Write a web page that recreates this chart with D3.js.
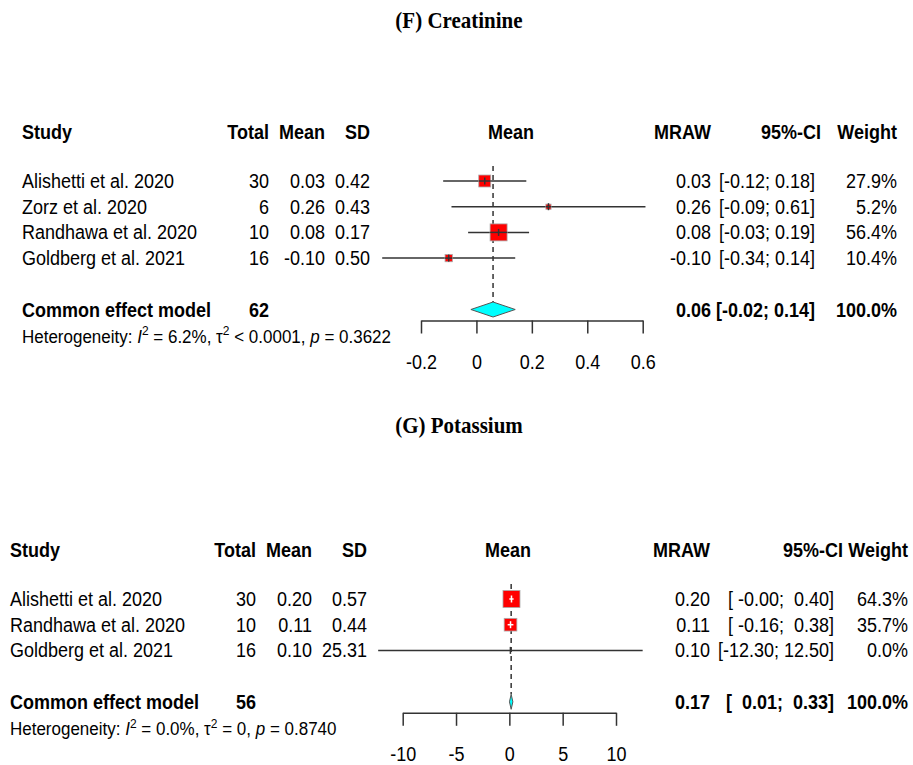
<!DOCTYPE html>
<html>
<head>
<meta charset="utf-8">
<script src="https://cdn.jsdelivr.net/npm/d3@7"></script>
<style>
  body { margin: 0; background: #fff; }
  svg { display: block; }
  text { font-family: "Liberation Sans", Arial, sans-serif; fill: #000; white-space: pre; }
</style>
</head>
<body>
<div id="chart"></div>
<script>
// ---- (F) Creatinine ----
const fStudies = ["Alishetti et al. 2020", "Zorz et al. 2020", "Randhawa et al. 2020", "Goldberg et al. 2021"];
const fTotal = [30, 6, 10, 16];
const fMean = [0.03, 0.26, 0.08, -0.10];
const fSD = [0.42, 0.43, 0.17, 0.50];
const fLower = [-0.12, -0.09, -0.03, -0.34];
const fUpper = [0.18, 0.61, 0.19, 0.14];
const fWeight = [27.9, 5.2, 56.4, 10.4];
const fPooled = [62, 0.06, -0.02, 0.14];          // total, estimate, lower, upper
const fHet = ["6.2%", "< 0.0001", "0.3622"];        // I^2, tau^2, p
const fTicks = [-0.2, 0, 0.2, 0.4, 0.6];

// ---- (G) Potassium ----
const gStudies = ["Alishetti et al. 2020", "Randhawa et al. 2020", "Goldberg et al. 2021"];
const gTotal = [30, 10, 16];
const gMean = [0.20, 0.11, 0.10];
const gSD = [0.57, 0.44, 25.31];
const gLower = [-0.004, -0.16, -12.30];
const gUpper = [0.40, 0.38, 12.50];
const gWeight = [64.3, 35.7, 0.0];
const gPooled = [56, 0.17, 0.01, 0.33];
const gHet = ["0.0%", "= 0", "0.8740"];
const gTicks = [-10, -5, 0, 5, 10];

const W = 913, H = 765;
const svg = d3.select("#chart").append("svg")
    .attr("width", W).attr("height", H)
    .attr("viewBox", `0 0 ${W} ${H}`);
svg.append("rect").attr("width", W).attr("height", H).attr("fill", "#fff");

// R prints a plain hyphen for negatives
const hyphen = fmt => d => fmt(d).replace("\u2212", "-");

drawPanel({
    title: "(F) Creatinine", titleY: 20, headerY: 132, rowY0: 181,
    studyX: 22, totalX: 269, meanX: 325, sdX: 370, plotHeadX: 511,
    xRange: [421, 642.7], mrawX: 711, ciX: 815, ciHeadX: 821, weightX: 897,
    domain: [-0.2, 0.6], ticks: fTicks, tickFmt: hyphen(d => d === 0 ? "0" : d3.format(".1f")(d))
}, fStudies, fTotal, fMean, fSD, fLower, fUpper, fWeight, fPooled, fHet);

drawPanel({
    title: "(G) Potassium", titleY: 425, headerY: 550, rowY0: 599,
    studyX: 10, totalX: 256, meanX: 312, sdX: 367, plotHeadX: 508,
    xRange: [402.7, 616], mrawX: 710, ciX: 834, ciHeadX: 843, weightX: 908,
    domain: [-10, 10], ticks: gTicks, tickFmt: hyphen(d3.format("d"))
}, gStudies, gTotal, gMean, gSD, gLower, gUpper, gWeight, gPooled, gHet);

// the source image is slightly stretched vertically; stretch the glyphs the same way
svg.selectAll("text").each(function() {
    const y = +this.getAttribute("y") || 0;
    d3.select(this).attr("transform", `translate(0,${y}) scale(1,1.12) translate(0,${-y})`);
});

function drawPanel(cfg, studies, totals, means, sds, lowers, uppers, weights, pooled, het) {
    const step = 25.7;
    const g = svg.append("g");
    const rows = studies.map((s, i) => ({
        study: s, total: totals[i], mean: means[i], sd: sds[i],
        lo: lowers[i], hi: uppers[i], w: weights[i], y: cfg.rowY0 + i * step
    }));
    const yCommon = cfg.rowY0 + (rows.length + 1) * step;

    const x = d3.scaleLinear().domain(cfg.domain).range(cfg.xRange);
    const size = d3.scaleSqrt().domain([0, d3.max(weights)]).range([0, 17]);

    // title
    g.append("text")
        .attr("x", 459).attr("y", cfg.titleY).attr("dy", "0.35em")
        .attr("text-anchor", "middle")
        .style("font-family", "'Liberation Serif', 'Times New Roman', serif")
        .style("font-weight", "bold").style("font-size", "21px")
        .text(cfg.title);

    // header
    const heads = [
        ["Study", cfg.studyX, "start"], ["Total", cfg.totalX, "end"], ["Mean", cfg.meanX, "end"],
        ["SD", cfg.sdX, "end"], ["Mean", cfg.plotHeadX, "middle"], ["MRAW", cfg.mrawX, "end"],
        ["95%-CI", cfg.ciHeadX, "end"], ["Weight", cfg.weightX, "end"]
    ];
    g.selectAll(".head").data(heads).enter().append("text")
        .attr("x", d => d[1]).attr("y", cfg.headerY).attr("dy", "0.35em")
        .attr("text-anchor", d => d[2])
        .style("font-size", "18px").style("font-weight", "bold")
        .text(d => d[0]);

    // CI text padded like R's formatC
    const f2 = v => v.toFixed(2);
    const loW = d3.max(lowers.concat([pooled[2]]), v => f2(v).length);
    const hiW = d3.max(uppers.concat([pooled[3]]), v => f2(v).length);
    const ciText = (lo, hi) => "[" + f2(lo).padStart(loW) + "; " + f2(hi).padStart(hiW) + "]";

    // study rows text
    const cols = [
        [d => d.study, cfg.studyX, "start"], [d => d.total, cfg.totalX, "end"],
        [d => f2(d.mean), cfg.meanX, "end"], [d => f2(d.sd), cfg.sdX, "end"],
        [d => f2(d.mean), cfg.mrawX, "end"], [d => ciText(d.lo, d.hi), cfg.ciX, "end"],
        [d => d.w.toFixed(1) + "%", cfg.weightX, "end"]
    ];
    cols.forEach(c => {
        g.selectAll(null).data(rows).enter().append("text")
            .attr("x", c[1]).attr("y", d => d.y).attr("dy", "0.35em")
            .attr("text-anchor", c[2]).style("font-size", "18px")
            .text(c[0]);
    });

    // pooled row text
    const pooledCols = [
        ["Common effect model", cfg.studyX, "start"], [pooled[0], cfg.totalX, "end"],
        [f2(pooled[1]), cfg.mrawX, "end"], [ciText(pooled[2], pooled[3]), cfg.ciX, "end"],
        ["100.0%", cfg.weightX, "end"]
    ];
    g.selectAll(null).data(pooledCols).enter().append("text")
        .attr("x", d => d[1]).attr("y", yCommon).attr("dy", "0.35em")
        .attr("text-anchor", d => d[2])
        .style("font-size", "18px").style("font-weight", "bold")
        .text(d => d[0]);

    // heterogeneity
    const ht = g.append("text").attr("x", cfg.studyX).attr("y", yCommon + 27).attr("dy", "0.35em")
        .style("font-size", "17px");
    ht.append("tspan").text("Heterogeneity: ");
    ht.append("tspan").style("font-style", "italic").text("I");
    ht.append("tspan").attr("dy", -7).style("font-size", "12px").text("2");
    ht.append("tspan").attr("dy", 7).text(" = " + het[0] + ", \u03c4");
    ht.append("tspan").attr("dy", -7).style("font-size", "12px").text("2");
    ht.append("tspan").attr("dy", 7).text(" " + het[1] + ", ");
    ht.append("tspan").style("font-style", "italic").text("p");
    ht.append("tspan").text(" = " + het[2]);

    // reference dashed line at pooled estimate
    g.append("line")
        .attr("x1", x(pooled[1])).attr("x2", x(pooled[1]))
        .attr("y1", cfg.rowY0 - 15).attr("y2", yCommon - 7.5)
        .attr("stroke", "#333").attr("stroke-width", 1.5).attr("stroke-dasharray", "5,4");

    // CI lines
    g.selectAll(null).data(rows).enter().append("line")
        .attr("x1", d => x(d.lo)).attr("x2", d => x(d.hi))
        .attr("y1", d => d.y).attr("y2", d => d.y)
        .attr("stroke", "#333").attr("stroke-width", 1.5);

    // squares
    g.selectAll(null).data(rows.filter(d => d.w > 0)).enter().append("rect")
        .attr("x", d => x(d.mean) - size(d.w) / 2)
        .attr("y", d => d.y - size(d.w) / 2)
        .attr("width", d => size(d.w)).attr("height", d => size(d.w))
        .attr("fill", "#ff0000").attr("stroke", "#aaa").attr("stroke-width", 0.8);

    // lines drawn over squares: white when the CI lies inside the square
    const inside = d => (x(d.hi) - x(d.lo)) < size(d.w);
    g.selectAll(null).data(rows).enter().append("line")
        .attr("x1", d => Math.max(x(d.lo), x(d.mean) - size(d.w) / 2))
        .attr("x2", d => Math.min(x(d.hi), x(d.mean) + size(d.w) / 2))
        .attr("y1", d => d.y).attr("y2", d => d.y)
        .attr("stroke", d => inside(d) ? "#fff" : "#333").attr("stroke-width", 1.5);
    g.selectAll(null).data(rows).enter().append("line")
        .attr("x1", d => x(d.mean)).attr("x2", d => x(d.mean))
        .attr("y1", d => d.y - 3.5).attr("y2", d => d.y + 3.5)
        .attr("stroke", d => inside(d) ? "#fff" : "#333").attr("stroke-width", 1.5);

    // pooled diamond
    const dia = [[pooled[2], 0], [pooled[1], -7.5], [pooled[3], 0], [pooled[1], 7.5]];
    g.append("polygon")
        .attr("points", dia.map(p => [x(p[0]), yCommon + p[1]].join(",")).join(" "))
        .attr("fill", "#00ffff").attr("stroke", "#555").attr("stroke-width", 1);

    // axis
    const axis = g.append("g")
        .attr("transform", `translate(0,${yCommon + 11})`)
        .call(d3.axisBottom(x).tickValues(cfg.ticks).tickFormat(cfg.tickFmt)
            .tickSize(13).tickSizeOuter(0).tickPadding(21));
    axis.select(".domain").attr("stroke", "#333").attr("stroke-width", 1.5);
    axis.selectAll(".tick line").attr("stroke", "#333").attr("stroke-width", 1.5);
    axis.selectAll(".tick text")
        .style("font-family", "'Liberation Sans', Arial, sans-serif")
        .style("font-size", "18px").attr("fill", "#000");
}
</script>
</body>
</html>
